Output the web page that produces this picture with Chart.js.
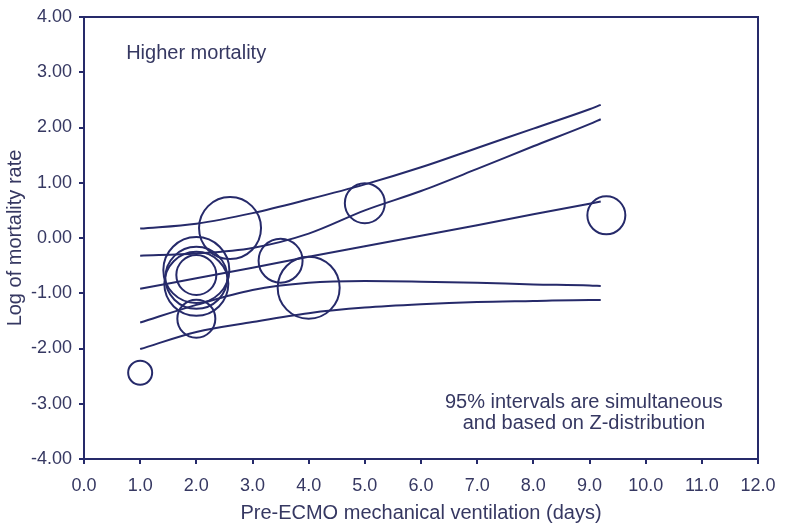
<!DOCTYPE html>
<html>
<head>
<meta charset="utf-8">
<title>Meta-regression: pre-ECMO ventilation</title>
<script src="https://cdn.jsdelivr.net/npm/chart.js@4.4.1/dist/chart.umd.min.js"></script>
<style>
body{margin:0;background:#fff;}
</style>
</head>
<body>
<canvas id="metaChart" width="788" height="525"></canvas>
<script>

// Studies (bubbles): days of ventilation, log mortality rate, bubble size (weight)
const studyDays = [1.0, 2.0, 2.0, 2.0, 2.0, 2.0, 2.6, 3.5, 4.0, 5.0, 9.3];
const studyLogRate = [-2.44, -1.46, -0.58, -0.83, -0.67, -0.72, 0.18, -0.41, -0.90, 0.63, 0.41];
const studySize = [12, 19, 33, 32, 20, 31, 31, 22, 31, 20, 19];

// Regression line and 95% simultaneous bands, read at these x values
const fitDays = [1, 2, 3, 4, 5, 6, 7, 8, 9, 9.2];
const fitLine = [-0.92, -0.73, -0.54, -0.34, -0.15, 0.04, 0.23, 0.43, 0.62, 0.66];
const upperOuter = [0.17, 0.26, 0.45, 0.70, 0.97, 1.28, 1.63, 1.98, 2.33, 2.41];
const upperInner = [-0.32, -0.28, -0.18, 0.08, 0.50, 0.85, 1.25, 1.66, 2.06, 2.15];
const lowerInner = [-1.53, -1.21, -0.94, -0.81, -0.78, -0.79, -0.81, -0.84, -0.86, -0.87];
const lowerOuter = [-2.01, -1.70, -1.52, -1.36, -1.26, -1.20, -1.16, -1.14, -1.12, -1.12];

const xTicks = [0,1,2,3,4,5,6,7,8,9,10,11,12];
const yTicks = [-4,-3,-2,-1,0,1,2,3,4];

const navy = "#262a6a";
const textColor = "#363862";
const font = "'Liberation Sans', Arial, sans-serif";


function makeLine(values){
  return {
    type:'line',
    data: fitDays.map((d,i) => ({x:d, y:values[i]})),
    borderColor: navy,
    borderWidth: 2,
    pointRadius: 0,
    fill: false,
    cubicInterpolationMode: 'monotone'
  };
}


// frame on top/right plus the two notes inside the plot
const extras = {
  id:'extras',
  afterDraw(chart){
    let c = chart.ctx;
    let a = chart.chartArea;
    let xs = chart.scales.x;
    let ys = chart.scales.y;

    c.save();
    c.strokeStyle = navy;
    c.lineWidth = 2;
    c.beginPath();
    c.moveTo(a.left, a.top);
    c.lineTo(a.right, a.top);
    c.lineTo(a.right, a.bottom);
    c.stroke();

    c.fillStyle = textColor;
    c.font = "20px " + font;
    c.textBaseline = 'middle';
    c.textAlign = 'left';
    c.fillText("Higher mortality", xs.getPixelForValue(0.75), ys.getPixelForValue(3.34));
    c.textAlign = 'center';
    c.fillText("95% intervals are simultaneous", xs.getPixelForValue(8.9), ys.getPixelForValue(-2.97));
    c.fillText("and based on Z-distribution", xs.getPixelForValue(8.9), ys.getPixelForValue(-3.36));
    c.restore();
  }
};


new Chart(document.getElementById('metaChart'), {

type:'bubble',

data:{
  datasets:[
    {
      type:'bubble',
      data: studyDays.map((d,i) => ({x:d, y:studyLogRate[i], r:studySize[i]})),
      backgroundColor:'rgba(0,0,0,0)',
      borderColor: navy,
      borderWidth: 2
    },
    makeLine(upperOuter),
    makeLine(upperInner),
    makeLine(fitLine),
    makeLine(lowerInner),
    makeLine(lowerOuter)
  ]
},

options:{
  responsive:false,
  animation:false,
  layout:{ autoPadding:false, padding:{ top:17, right:30, left:0, bottom:0 } },
  plugins:{ legend:{display:false}, tooltip:{enabled:false} },
  scales:{
    x:{
      type:'linear',
      min:0, max:12,
      afterBuildTicks: s => { s.ticks = xTicks.map(v => ({value:v})); },
      afterFit: s => { s.height = 66; s.paddingLeft = 0; s.paddingRight = 0; },
      ticks:{ color:textColor, font:{family:font, size:18}, padding:11, maxRotation:0,
              callback: v => v.toFixed(1) },
      grid:{ drawOnChartArea:false, drawTicks:true, tickLength:5, color:navy, lineWidth:2 },
      border:{ display:true, color:navy, width:2 },
      title:{ display:true, text:'Pre-ECMO mechanical ventilation (days)', color:textColor,
              font:{family:font, size:20}, padding:{top:0, bottom:0} }
    },
    y:{
      type:'linear',
      min:-4, max:4,
      afterBuildTicks: s => { s.ticks = yTicks.map(v => ({value:v})); },
      afterFit: s => { s.width = 84; s.paddingTop = 0; s.paddingBottom = 0; },
      ticks:{ color:textColor, font:{family:font, size:18}, padding:7,
              callback: v => v.toFixed(2) },
      grid:{ drawOnChartArea:false, drawTicks:true, tickLength:5, color:navy, lineWidth:2 },
      border:{ display:true, color:navy, width:2 },
      title:{ display:true, text:'Log of mortality rate', color:textColor,
              font:{family:font, size:20}, padding:{top:3, bottom:0} }
    }
  }
},

plugins:[extras]

});

</script>
</body>
</html>
